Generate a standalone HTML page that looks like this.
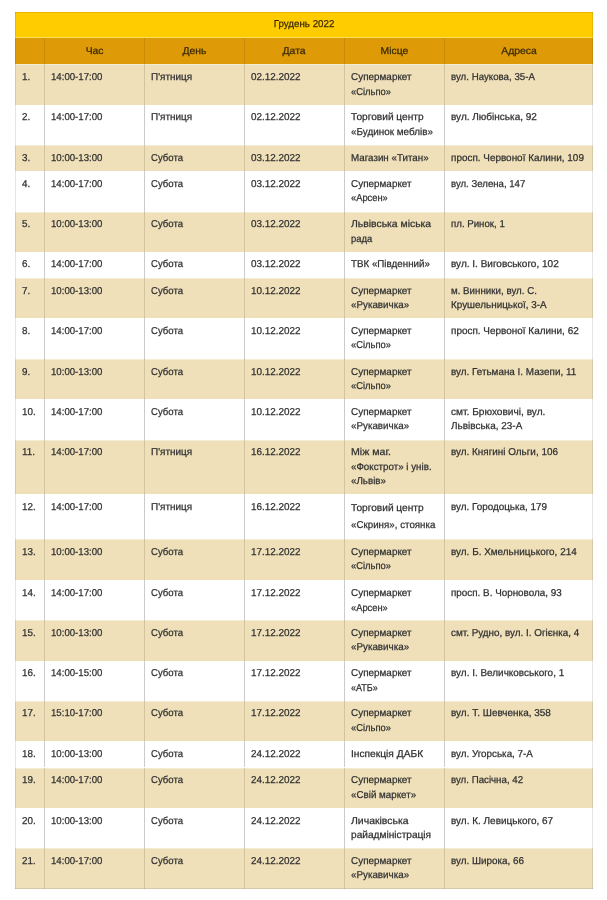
<!DOCTYPE html><html lang="uk"><head><meta charset="utf-8"><title>Грудень 2022</title><style>
html,body{margin:0;padding:0;background:#fff;}
body{width:607px;height:900px;position:relative;overflow:hidden;font-family:"Liberation Sans",sans-serif;font-size:10.0px;line-height:14.4px;color:#303030;letter-spacing:0px;-webkit-text-stroke:0.25px currentColor;text-rendering:geometricPrecision;filter:blur(0.4px);}
.r{position:absolute;left:15px;width:577.5px;}
.c{position:absolute;top:0;bottom:0;box-sizing:border-box;padding:6.2px 0 0 6.3px;white-space:nowrap;}
.v{position:absolute;top:12px;width:1px;background:rgba(0,0,0,0.13);height:876.6px;}
.t{background:#ffcc00;text-align:center;color:#3a2a05;}
.h{background:#de9b07;color:#3a2a05;}
.h .c{text-align:center;padding-left:0;}
.o{background:#efe0b9;box-shadow:inset 0 1px 0 rgba(255,255,255,0.4);}
.b,.b0{border-left:1px solid transparent;}
.h .b{border-left-color:#c98a06;}
.o .b{border-left-color:#d3c4a0;}
.e .b{border-left-color:#cbcbcf;}
.e{background:#fff;}
.s{display:block;position:absolute;left:6.3px;line-height:14px;transform-origin:0 0;}
.t .s,.h .s{position:static;display:inline-block;line-height:14.4px;}
.sh{transform-origin:50% 0;transform:scaleX(1.0372);}
.s0{transform:scaleX(0.9858);}
.s1{transform:scaleX(0.97);}
.s2{transform:scaleX(1.007);}
.s3{transform:scaleX(0.9996);}
.s4{transform:scaleX(1.0123);}
.s5{transform:scaleX(1.007);}
.hl{position:absolute;left:15px;width:577.5px;height:1px;}
</style></head><body>
<div class="r t" style="top:12px;height:25.7px"><div class="c" style="left:0;right:0;padding-top:5.9px;padding-left:0"><span class="s sh" style="transform:scaleX(0.975)">Грудень 2022</span></div></div>
<div class="r h" style="top:37.7px;height:26.1px"><div class="c b0" style="left:0px;width:29px;padding-top:7.2px"><span class="s sh"></span></div><div class="c b" style="left:29px;width:100px;padding-top:7.2px"><span class="s sh">Час</span></div><div class="c b" style="left:129px;width:100px;padding-top:7.2px"><span class="s sh">День</span></div><div class="c b" style="left:229px;width:100px;padding-top:7.2px"><span class="s sh">Дата</span></div><div class="c b" style="left:329px;width:100px;padding-top:7.2px"><span class="s sh">Місце</span></div><div class="c b" style="left:429px;width:148.5px;padding-top:7.2px"><span class="s sh">Адреса</span></div></div>
<div class="r o" style="top:63.8px;height:40.9px"><div class="c b0" style="left:0px;width:29px"><span class="s" style="top:7.2px;transform:scaleX(0.9858)">1.</span></div><div class="c b" style="left:29px;width:100px"><span class="s" style="top:7.2px;transform:scaleX(0.9628)">14:00-17:00</span></div><div class="c b" style="left:129px;width:100px"><span class="s" style="top:7.2px;transform:scaleX(0.9966)">П'ятниця</span></div><div class="c b" style="left:229px;width:100px"><span class="s" style="top:7.2px;transform:scaleX(0.9888)">02.12.2022</span></div><div class="c b" style="left:329px;width:100px"><span class="s" style="top:7.2px;transform:scaleX(0.9925)">Супермаркет</span><span class="s" style="top:22.2px;transform:scaleX(0.9392)">«Сільпо»</span></div><div class="c b" style="left:429px;width:148.5px"><span class="s" style="top:7.2px;transform:scaleX(0.9707)">вул. Наукова, 35-А</span></div></div>
<div class="r e" style="top:104.7px;height:40.3px"><div class="c b0" style="left:0px;width:29px"><span class="s" style="top:6.3px;transform:scaleX(0.9858)">2.</span></div><div class="c b" style="left:29px;width:100px"><span class="s" style="top:6.3px;transform:scaleX(0.9628)">14:00-17:00</span></div><div class="c b" style="left:129px;width:100px"><span class="s" style="top:6.3px;transform:scaleX(0.9966)">П'ятниця</span></div><div class="c b" style="left:229px;width:100px"><span class="s" style="top:6.3px;transform:scaleX(0.9888)">02.12.2022</span></div><div class="c b" style="left:329px;width:100px"><span class="s" style="top:6.3px;transform:scaleX(1.0148)">Торговий центр</span><span class="s" style="top:21.3px;transform:scaleX(0.9896)">«Будинок меблів»</span></div><div class="c b" style="left:429px;width:148.5px"><span class="s" style="top:6.3px;transform:scaleX(1.0005)">вул. Любінська, 92</span></div></div>
<div class="r o" style="top:145px;height:26.2px"><div class="c b0" style="left:0px;width:29px"><span class="s" style="top:7px;transform:scaleX(0.9858)">3.</span></div><div class="c b" style="left:29px;width:100px"><span class="s" style="top:7px;transform:scaleX(0.9628)">10:00-13:00</span></div><div class="c b" style="left:129px;width:100px"><span class="s" style="top:7px;transform:scaleX(0.9571)">Субота</span></div><div class="c b" style="left:229px;width:100px"><span class="s" style="top:7px;transform:scaleX(0.9888)">03.12.2022</span></div><div class="c b" style="left:329px;width:100px"><span class="s" style="top:7px;transform:scaleX(0.9786)">Магазин «Титан»</span></div><div class="c b" style="left:429px;width:148.5px"><span class="s" style="top:7px;transform:scaleX(0.9929)">просп. Червоної Калини, 109</span></div></div>
<div class="r e" style="top:171.2px;height:40.5px"><div class="c b0" style="left:0px;width:29px"><span class="s" style="top:6.8px;transform:scaleX(0.9858)">4.</span></div><div class="c b" style="left:29px;width:100px"><span class="s" style="top:6.8px;transform:scaleX(0.9628)">14:00-17:00</span></div><div class="c b" style="left:129px;width:100px"><span class="s" style="top:6.8px;transform:scaleX(0.9571)">Субота</span></div><div class="c b" style="left:229px;width:100px"><span class="s" style="top:6.8px;transform:scaleX(0.9888)">03.12.2022</span></div><div class="c b" style="left:329px;width:100px"><span class="s" style="top:6.8px;transform:scaleX(0.9925)">Супермаркет</span><span class="s" style="top:20.8px;transform:scaleX(0.9328)">«Арсен»</span></div><div class="c b" style="left:429px;width:148.5px"><span class="s" style="top:6.8px;transform:scaleX(0.9617)">вул. Зелена, 147</span></div></div>
<div class="r o" style="top:211.7px;height:40.0px"><div class="c b0" style="left:0px;width:29px"><span class="s" style="top:6.3px;transform:scaleX(0.9858)">5.</span></div><div class="c b" style="left:29px;width:100px"><span class="s" style="top:6.3px;transform:scaleX(0.9628)">10:00-13:00</span></div><div class="c b" style="left:129px;width:100px"><span class="s" style="top:6.3px;transform:scaleX(0.9571)">Субота</span></div><div class="c b" style="left:229px;width:100px"><span class="s" style="top:6.3px;transform:scaleX(0.9888)">03.12.2022</span></div><div class="c b" style="left:329px;width:100px"><span class="s" style="top:6.3px;transform:scaleX(1.0386)">Львівська міська</span><span class="s" style="top:21.3px;transform:scaleX(0.9411)">рада</span></div><div class="c b" style="left:429px;width:148.5px"><span class="s" style="top:6.3px;transform:scaleX(0.967)">пл. Ринок, 1</span></div></div>
<div class="r e" style="top:251.7px;height:26.6px"><div class="c b0" style="left:0px;width:29px"><span class="s" style="top:6.3px;transform:scaleX(0.9858)">6.</span></div><div class="c b" style="left:29px;width:100px"><span class="s" style="top:6.3px;transform:scaleX(0.9628)">14:00-17:00</span></div><div class="c b" style="left:129px;width:100px"><span class="s" style="top:6.3px;transform:scaleX(0.9571)">Субота</span></div><div class="c b" style="left:229px;width:100px"><span class="s" style="top:6.3px;transform:scaleX(0.9888)">03.12.2022</span></div><div class="c b" style="left:329px;width:100px"><span class="s" style="top:6.3px;transform:scaleX(0.9773)">ТВК «Південний»</span></div><div class="c b" style="left:429px;width:148.5px"><span class="s" style="top:6.3px;transform:scaleX(1.0015)">вул. І. Виговського, 102</span></div></div>
<div class="r o" style="top:278.3px;height:40.0px"><div class="c b0" style="left:0px;width:29px"><span class="s" style="top:6.7px;transform:scaleX(0.9858)">7.</span></div><div class="c b" style="left:29px;width:100px"><span class="s" style="top:6.7px;transform:scaleX(0.9628)">10:00-13:00</span></div><div class="c b" style="left:129px;width:100px"><span class="s" style="top:6.7px;transform:scaleX(0.9571)">Субота</span></div><div class="c b" style="left:229px;width:100px"><span class="s" style="top:6.7px;transform:scaleX(0.9888)">10.12.2022</span></div><div class="c b" style="left:329px;width:100px"><span class="s" style="top:6.7px;transform:scaleX(0.9925)">Супермаркет</span><span class="s" style="top:20.7px;transform:scaleX(0.9812)">«Рукавичка»</span></div><div class="c b" style="left:429px;width:148.5px"><span class="s" style="top:6.7px;transform:scaleX(0.975)">м. Винники, вул. С.</span><span class="s" style="top:20.7px;transform:scaleX(0.9901)">Крушельницької, 3-А</span></div></div>
<div class="r e" style="top:318.3px;height:40.9px"><div class="c b0" style="left:0px;width:29px"><span class="s" style="top:6.7px;transform:scaleX(0.9858)">8.</span></div><div class="c b" style="left:29px;width:100px"><span class="s" style="top:6.7px;transform:scaleX(0.9628)">14:00-17:00</span></div><div class="c b" style="left:129px;width:100px"><span class="s" style="top:6.7px;transform:scaleX(0.9571)">Субота</span></div><div class="c b" style="left:229px;width:100px"><span class="s" style="top:6.7px;transform:scaleX(0.9888)">10.12.2022</span></div><div class="c b" style="left:329px;width:100px"><span class="s" style="top:6.7px;transform:scaleX(0.9925)">Супермаркет</span><span class="s" style="top:20.7px;transform:scaleX(0.9392)">«Сільпо»</span></div><div class="c b" style="left:429px;width:148.5px"><span class="s" style="top:6.7px;transform:scaleX(0.9954)">просп. Червоної Калини, 62</span></div></div>
<div class="r o" style="top:359.2px;height:40.0px"><div class="c b0" style="left:0px;width:29px"><span class="s" style="top:6.8px;transform:scaleX(0.9858)">9.</span></div><div class="c b" style="left:29px;width:100px"><span class="s" style="top:6.8px;transform:scaleX(0.9628)">10:00-13:00</span></div><div class="c b" style="left:129px;width:100px"><span class="s" style="top:6.8px;transform:scaleX(0.9571)">Субота</span></div><div class="c b" style="left:229px;width:100px"><span class="s" style="top:6.8px;transform:scaleX(0.9888)">10.12.2022</span></div><div class="c b" style="left:329px;width:100px"><span class="s" style="top:6.8px;transform:scaleX(0.9925)">Супермаркет</span><span class="s" style="top:20.8px;transform:scaleX(0.9392)">«Сільпо»</span></div><div class="c b" style="left:429px;width:148.5px"><span class="s" style="top:6.8px;transform:scaleX(0.9895)">вул. Гетьмана І. Мазепи, 11</span></div></div>
<div class="r e" style="top:399.2px;height:40.5px"><div class="c b0" style="left:0px;width:29px"><span class="s" style="top:6.8px;transform:scaleX(0.9858)">10.</span></div><div class="c b" style="left:29px;width:100px"><span class="s" style="top:6.8px;transform:scaleX(0.9628)">14:00-17:00</span></div><div class="c b" style="left:129px;width:100px"><span class="s" style="top:6.8px;transform:scaleX(0.9571)">Субота</span></div><div class="c b" style="left:229px;width:100px"><span class="s" style="top:6.8px;transform:scaleX(0.9888)">10.12.2022</span></div><div class="c b" style="left:329px;width:100px"><span class="s" style="top:6.8px;transform:scaleX(0.9925)">Супермаркет</span><span class="s" style="top:20.8px;transform:scaleX(0.9812)">«Рукавичка»</span></div><div class="c b" style="left:429px;width:148.5px"><span class="s" style="top:6.8px;transform:scaleX(1.0124)">смт. Брюховичі, вул.</span><span class="s" style="top:20.8px;transform:scaleX(0.9964)">Львівська, 23-А</span></div></div>
<div class="r o" style="top:439.7px;height:54.5px"><div class="c b0" style="left:0px;width:29px"><span class="s" style="top:6.3px;transform:scaleX(0.9858)">11.</span></div><div class="c b" style="left:29px;width:100px"><span class="s" style="top:6.3px;transform:scaleX(0.9628)">14:00-17:00</span></div><div class="c b" style="left:129px;width:100px"><span class="s" style="top:6.3px;transform:scaleX(0.9966)">П'ятниця</span></div><div class="c b" style="left:229px;width:100px"><span class="s" style="top:6.3px;transform:scaleX(0.9888)">16.12.2022</span></div><div class="c b" style="left:329px;width:100px"><span class="s" style="top:6.3px;transform:scaleX(1.0619)">Між маг.</span><span class="s" style="top:21.3px;transform:scaleX(0.9776)">«Фокстрот» і унів.</span><span class="s" style="top:35.3px;transform:scaleX(0.9791)">«Львів»</span></div><div class="c b" style="left:429px;width:148.5px"><span class="s" style="top:6.3px;transform:scaleX(0.9901)">вул. Княгині Ольги, 106</span></div></div>
<div class="r e" style="top:494.2px;height:44.8px"><div class="c b0" style="left:0px;width:29px"><span class="s" style="top:6.8px;transform:scaleX(0.9858)">12.</span></div><div class="c b" style="left:29px;width:100px"><span class="s" style="top:6.8px;transform:scaleX(0.9628)">14:00-17:00</span></div><div class="c b" style="left:129px;width:100px"><span class="s" style="top:6.8px;transform:scaleX(0.9966)">П'ятниця</span></div><div class="c b" style="left:229px;width:100px"><span class="s" style="top:6.8px;transform:scaleX(0.9888)">16.12.2022</span></div><div class="c b" style="left:329px;width:100px"><span class="s" style="top:7.8px;transform:scaleX(1.0148)">Торговий центр</span><span class="s" style="top:24.8px;transform:scaleX(0.9759)">«Скриня», стоянка</span></div><div class="c b" style="left:429px;width:148.5px"><span class="s" style="top:6.8px;transform:scaleX(0.9865)">вул. Городоцька, 179</span></div></div>
<div class="r o" style="top:539px;height:40.5px"><div class="c b0" style="left:0px;width:29px"><span class="s" style="top:7px;transform:scaleX(0.9858)">13.</span></div><div class="c b" style="left:29px;width:100px"><span class="s" style="top:7px;transform:scaleX(0.9628)">10:00-13:00</span></div><div class="c b" style="left:129px;width:100px"><span class="s" style="top:7px;transform:scaleX(0.9571)">Субота</span></div><div class="c b" style="left:229px;width:100px"><span class="s" style="top:7px;transform:scaleX(0.9888)">17.12.2022</span></div><div class="c b" style="left:329px;width:100px"><span class="s" style="top:7px;transform:scaleX(0.9925)">Супермаркет</span><span class="s" style="top:21px;transform:scaleX(0.9392)">«Сільпо»</span></div><div class="c b" style="left:429px;width:148.5px"><span class="s" style="top:7px;transform:scaleX(0.9935)">вул. Б. Хмельницького, 214</span></div></div>
<div class="r e" style="top:579.5px;height:40.5px"><div class="c b0" style="left:0px;width:29px"><span class="s" style="top:7.5px;transform:scaleX(0.9858)">14.</span></div><div class="c b" style="left:29px;width:100px"><span class="s" style="top:7.5px;transform:scaleX(0.9628)">14:00-17:00</span></div><div class="c b" style="left:129px;width:100px"><span class="s" style="top:7.5px;transform:scaleX(0.9571)">Субота</span></div><div class="c b" style="left:229px;width:100px"><span class="s" style="top:7.5px;transform:scaleX(0.9888)">17.12.2022</span></div><div class="c b" style="left:329px;width:100px"><span class="s" style="top:7.5px;transform:scaleX(0.9925)">Супермаркет</span><span class="s" style="top:22.5px;transform:scaleX(0.9328)">«Арсен»</span></div><div class="c b" style="left:429px;width:148.5px"><span class="s" style="top:7.5px;transform:scaleX(0.9864)">просп. В. Чорновола, 93</span></div></div>
<div class="r o" style="top:620px;height:40.5px"><div class="c b0" style="left:0px;width:29px"><span class="s" style="top:7px;transform:scaleX(0.9858)">15.</span></div><div class="c b" style="left:29px;width:100px"><span class="s" style="top:7px;transform:scaleX(0.9628)">10:00-13:00</span></div><div class="c b" style="left:129px;width:100px"><span class="s" style="top:7px;transform:scaleX(0.9571)">Субота</span></div><div class="c b" style="left:229px;width:100px"><span class="s" style="top:7px;transform:scaleX(0.9888)">17.12.2022</span></div><div class="c b" style="left:329px;width:100px"><span class="s" style="top:7px;transform:scaleX(0.9925)">Супермаркет</span><span class="s" style="top:21px;transform:scaleX(0.9812)">«Рукавичка»</span></div><div class="c b" style="left:429px;width:148.5px"><span class="s" style="top:7px;transform:scaleX(0.9871)">смт. Рудно, вул. І. Огієнка, 4</span></div></div>
<div class="r e" style="top:660.5px;height:40.3px"><div class="c b0" style="left:0px;width:29px"><span class="s" style="top:6.5px;transform:scaleX(0.9858)">16.</span></div><div class="c b" style="left:29px;width:100px"><span class="s" style="top:6.5px;transform:scaleX(0.9628)">14:00-15:00</span></div><div class="c b" style="left:129px;width:100px"><span class="s" style="top:6.5px;transform:scaleX(0.9571)">Субота</span></div><div class="c b" style="left:229px;width:100px"><span class="s" style="top:6.5px;transform:scaleX(0.9888)">17.12.2022</span></div><div class="c b" style="left:329px;width:100px"><span class="s" style="top:6.5px;transform:scaleX(0.9925)">Супермаркет</span><span class="s" style="top:21.5px;transform:scaleX(0.9028)">«АТБ»</span></div><div class="c b" style="left:429px;width:148.5px"><span class="s" style="top:6.5px;transform:scaleX(0.9952)">вул. І. Величковського, 1</span></div></div>
<div class="r o" style="top:700.8px;height:40.5px"><div class="c b0" style="left:0px;width:29px"><span class="s" style="top:6.2px;transform:scaleX(0.9858)">17.</span></div><div class="c b" style="left:29px;width:100px"><span class="s" style="top:6.2px;transform:scaleX(0.9628)">15:10-17:00</span></div><div class="c b" style="left:129px;width:100px"><span class="s" style="top:6.2px;transform:scaleX(0.9571)">Субота</span></div><div class="c b" style="left:229px;width:100px"><span class="s" style="top:6.2px;transform:scaleX(0.9888)">17.12.2022</span></div><div class="c b" style="left:329px;width:100px"><span class="s" style="top:6.2px;transform:scaleX(0.9925)">Супермаркет</span><span class="s" style="top:21.2px;transform:scaleX(0.9392)">«Сільпо»</span></div><div class="c b" style="left:429px;width:148.5px"><span class="s" style="top:6.2px;transform:scaleX(0.9979)">вул. Т. Шевченка, 358</span></div></div>
<div class="r e" style="top:741.3px;height:26.2px"><div class="c b0" style="left:0px;width:29px"><span class="s" style="top:6.7px;transform:scaleX(0.9858)">18.</span></div><div class="c b" style="left:29px;width:100px"><span class="s" style="top:6.7px;transform:scaleX(0.9628)">10:00-13:00</span></div><div class="c b" style="left:129px;width:100px"><span class="s" style="top:6.7px;transform:scaleX(0.9571)">Субота</span></div><div class="c b" style="left:229px;width:100px"><span class="s" style="top:6.7px;transform:scaleX(0.9888)">24.12.2022</span></div><div class="c b" style="left:329px;width:100px"><span class="s" style="top:6.7px;transform:scaleX(1.0209)">Інспекція ДАБК</span></div><div class="c b" style="left:429px;width:148.5px"><span class="s" style="top:6.7px;transform:scaleX(0.9844)">вул. Угорська, 7-А</span></div></div>
<div class="r o" style="top:767.5px;height:40.5px"><div class="c b0" style="left:0px;width:29px"><span class="s" style="top:6.5px;transform:scaleX(0.9858)">19.</span></div><div class="c b" style="left:29px;width:100px"><span class="s" style="top:6.5px;transform:scaleX(0.9628)">14:00-17:00</span></div><div class="c b" style="left:129px;width:100px"><span class="s" style="top:6.5px;transform:scaleX(0.9571)">Субота</span></div><div class="c b" style="left:229px;width:100px"><span class="s" style="top:6.5px;transform:scaleX(0.9888)">24.12.2022</span></div><div class="c b" style="left:329px;width:100px"><span class="s" style="top:6.5px;transform:scaleX(0.9925)">Супермаркет</span><span class="s" style="top:21.5px;transform:scaleX(0.9783)">«Свій маркет»</span></div><div class="c b" style="left:429px;width:148.5px"><span class="s" style="top:6.5px;transform:scaleX(0.9715)">вул. Пасічна, 42</span></div></div>
<div class="r e" style="top:808px;height:40.3px"><div class="c b0" style="left:0px;width:29px"><span class="s" style="top:7px;transform:scaleX(0.9858)">20.</span></div><div class="c b" style="left:29px;width:100px"><span class="s" style="top:7px;transform:scaleX(0.9628)">10:00-13:00</span></div><div class="c b" style="left:129px;width:100px"><span class="s" style="top:7px;transform:scaleX(0.9571)">Субота</span></div><div class="c b" style="left:229px;width:100px"><span class="s" style="top:7px;transform:scaleX(0.9888)">24.12.2022</span></div><div class="c b" style="left:329px;width:100px"><span class="s" style="top:7px;transform:scaleX(1.0455)">Личаківська</span><span class="s" style="top:21px;transform:scaleX(1.0138)">райадміністрація</span></div><div class="c b" style="left:429px;width:148.5px"><span class="s" style="top:7px;transform:scaleX(0.9978)">вул. К. Левицького, 67</span></div></div>
<div class="r o" style="top:848.3px;height:40.3px"><div class="c b0" style="left:0px;width:29px"><span class="s" style="top:6.7px;transform:scaleX(0.9858)">21.</span></div><div class="c b" style="left:29px;width:100px"><span class="s" style="top:6.7px;transform:scaleX(0.9628)">14:00-17:00</span></div><div class="c b" style="left:129px;width:100px"><span class="s" style="top:6.7px;transform:scaleX(0.9571)">Субота</span></div><div class="c b" style="left:229px;width:100px"><span class="s" style="top:6.7px;transform:scaleX(0.9888)">24.12.2022</span></div><div class="c b" style="left:329px;width:100px"><span class="s" style="top:6.7px;transform:scaleX(0.9925)">Супермаркет</span><span class="s" style="top:20.7px;transform:scaleX(0.9812)">«Рукавичка»</span></div><div class="c b" style="left:429px;width:148.5px"><span class="s" style="top:6.7px;transform:scaleX(0.9881)">вул. Широка, 66</span></div></div>
<div class="v" style="left:15px;top:12px;height:876.6px;background:rgba(0,0,0,0.10)"></div>
<div class="v" style="left:591.5px;top:12px;height:876.6px;background:rgba(0,0,0,0.10)"></div>
<div class="hl" style="top:37.2px;background:rgba(255,255,255,0.35)"></div>
<div class="hl" style="top:12px;background:rgba(0,0,0,0.10)"></div>
<div class="hl" style="top:887.6px;background:rgba(0,0,0,0.10)"></div>
</body></html>
